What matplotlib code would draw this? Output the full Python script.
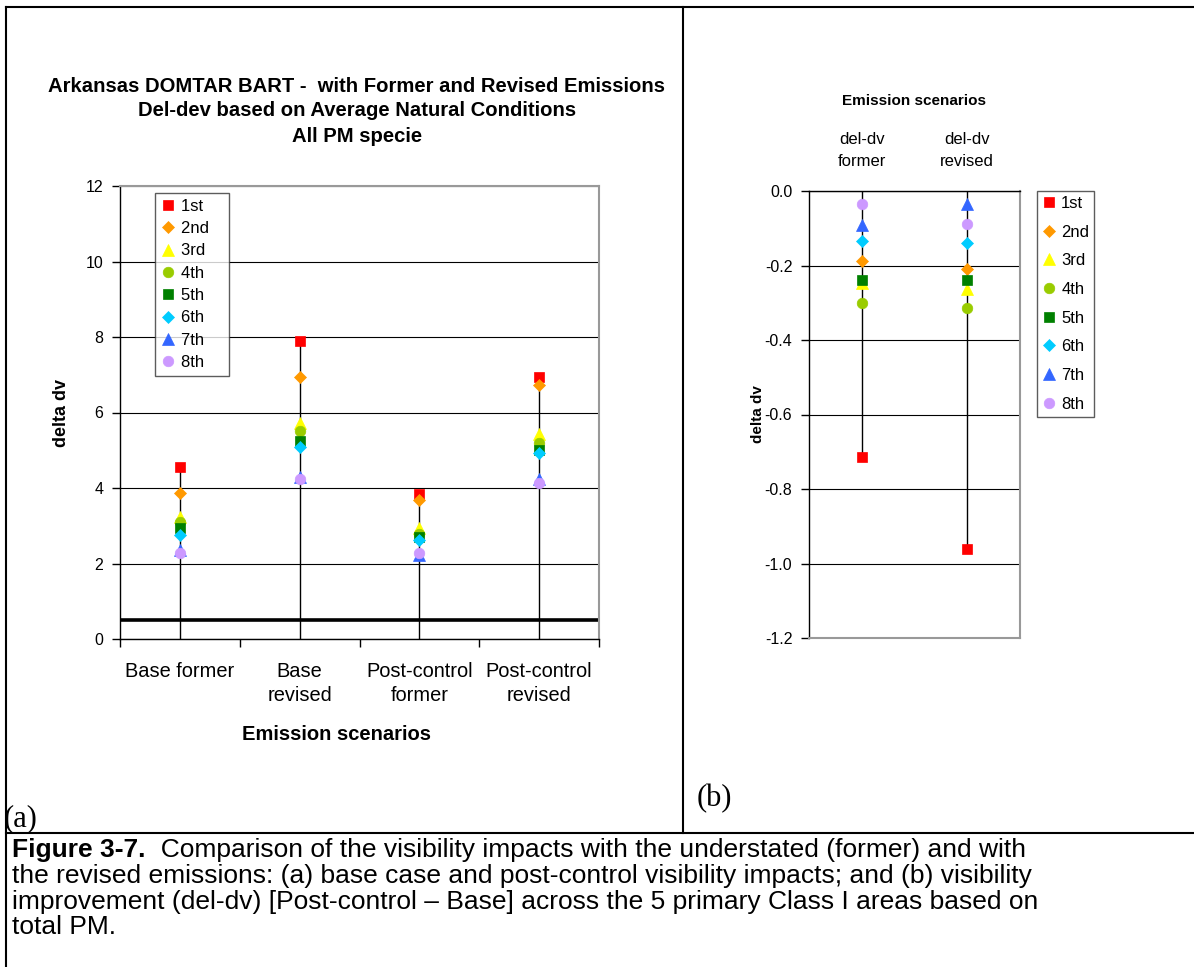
import matplotlib
matplotlib.use('Agg')
import matplotlib.pyplot as plt
from matplotlib.lines import Line2D
from matplotlib.ticker import FormatStrFormatter

W, H = 1194, 967
plt.rcParams['font.family'] = ['Liberation Sans', 'DejaVu Sans']

# ---------------- data ----------------
series_names = ['1st', '2nd', '3rd', '4th', '5th', '6th', '7th', '8th']

categories_a = ['Base former', 'Base\nrevised', 'Post-control\nformer', 'Post-control\nrevised']
a_1st = [4.55, 7.90, 3.84, 6.95]
a_2nd = [3.87, 6.95, 3.68, 6.73]
a_3rd = [3.24, 5.72, 2.95, 5.44]
a_4th = [3.11, 5.50, 2.78, 5.18]
a_5th = [2.93, 5.24, 2.71, 5.00]
a_6th = [2.76, 5.09, 2.62, 4.94]
a_7th = [2.36, 4.30, 2.23, 4.25]
a_8th = [2.29, 4.23, 2.27, 4.14]
threshold_a = 0.5

categories_b = ['del-dv\nformer', 'del-dv\nrevised']
b_1st = [-0.715, -0.960]
b_2nd = [-0.188, -0.209]
b_3rd = [-0.247, -0.262]
b_4th = [-0.302, -0.313]
b_5th = [-0.239, -0.239]
b_6th = [-0.134, -0.139]
b_7th = [-0.092, -0.034]
b_8th = [-0.036, -0.088]

series_a = [a_1st, a_2nd, a_3rd, a_4th, a_5th, a_6th, a_7th, a_8th]
series_b = [b_1st, b_2nd, b_3rd, b_4th, b_5th, b_6th, b_7th, b_8th]

# ---------------- styles ----------------
colors = ['#FF0000', '#FF9900', '#FFFF00', '#99CC00', '#008000', '#00CCFF', '#3366FF', '#CC99FF']
markers = ['s', 'D', '^', 'o', 's', 'D', '^', 'o']
msizes = [7.0, 5.8, 8.0, 7.6, 7.0, 5.8, 8.0, 7.6]

fig = plt.figure(figsize=(W / 100, H / 100), dpi=100)


def px_axes(x0, y0, x1, y1):
    return fig.add_axes([x0 / W, 1 - y1 / H, (x1 - x0) / W, (y1 - y0) / H])


def fx(x):
    return x / W


def fy(y):
    return 1 - y / H


def fig_line(x0, y0, x1, y1, lw=1.5):
    fig.add_artist(Line2D([fx(x0), fx(x1)], [fy(y0), fy(y1)], transform=fig.transFigure,
                          color='black', lw=lw, solid_capstyle='projecting'))


GRAY = '#999999'

# ---------------- panel (a) ----------------
axA = px_axes(120, 186, 599, 639)
xa = list(range(len(categories_a)))
tops = [max(s[i] for s in series_a) for i in xa]
axA.vlines(xa, 0, tops, colors='black', lw=1.0, zorder=2)
axA.axhline(threshold_a, color='black', lw=2.6, zorder=2.5)
for i, s in enumerate(series_a):
    axA.plot(xa, s, ls='none', marker=markers[i], ms=msizes[i], color=colors[i],
             mec=colors[i], mew=0.5, zorder=3 + i, label=series_names[i] + '   ')
axA.set_xlim(-0.5, 3.5)
axA.set_ylim(0, 12)
axA.set_yticks(range(0, 13, 2))
axA.yaxis.grid(True, color='black', lw=0.8)
axA.set_axisbelow(True)
axA.set_xticks(xa)
axA.set_xticklabels(categories_a, fontsize=14.4, linespacing=1.35)
axA.set_xticks([-0.5, 0.5, 1.5, 2.5, 3.5], minor=True)
axA.tick_params(axis='x', which='major', length=0, pad=16.5)
axA.tick_params(axis='x', which='minor', length=6, width=1, direction='out')
axA.tick_params(axis='y', length=6, width=1, direction='out', labelsize=11.5, pad=6)
for side in ['left', 'bottom']:
    axA.spines[side].set_color('black')
    axA.spines[side].set_linewidth(1.0)
for side in ['top', 'right']:
    axA.spines[side].set_color(GRAY)
    axA.spines[side].set_linewidth(1.5)
legA = axA.legend(loc='upper left', bbox_to_anchor=(fx(155), fy(193)),
                  bbox_transform=fig.transFigure, borderaxespad=0, fontsize=12,
                  frameon=True, fancybox=False, edgecolor='#333333', handlelength=0.8,
                  handletextpad=0.4, labelspacing=0.44, borderpad=0.35, numpoints=1)
legA.get_frame().set_linewidth(1.0)

fig.text(fx(357), fy(86), 'Arkansas DOMTAR BART -  with Former and Revised Emissions',
         ha='center', va='center', fontsize=14.6, weight='bold')
fig.text(fx(357), fy(111), 'Del-dev based on Average Natural Conditions',
         ha='center', va='center', fontsize=14.6, weight='bold')
fig.text(fx(357), fy(137), 'All PM specie', ha='center', va='center', fontsize=14.6,
         weight='bold')
fig.text(fx(337), fy(734), 'Emission scenarios', ha='center', va='center', fontsize=14.5,
         weight='bold')
fig.text(fx(62), fy(413), 'delta dv', ha='center', va='center', rotation=90, fontsize=13,
         weight='bold')

# ---------------- panel (b) ----------------
axB = px_axes(809, 191, 1020, 638)
xb = list(range(len(categories_b)))
bottoms = [min(s[i] for s in series_b) for i in xb]
axB.vlines(xb, bottoms, 0, colors='black', lw=1.0, zorder=2)
for i, s in enumerate(series_b):
    axB.plot(xb, s, ls='none', marker=markers[i], ms=msizes[i], color=colors[i],
             mec=colors[i], mew=0.5, zorder=3 + i, label=series_names[i])
axB.set_xlim(-0.5, 1.5)
axB.set_ylim(-1.2, 0)
axB.set_yticks([0, -0.2, -0.4, -0.6, -0.8, -1.0, -1.2])
axB.yaxis.set_major_formatter(FormatStrFormatter('%.1f'))
axB.yaxis.grid(True, color='black', lw=0.8)
axB.set_axisbelow(True)
axB.xaxis.tick_top()
axB.set_xticks(xb)
axB.set_xticklabels(categories_b, fontsize=12, linespacing=1.6)
axB.tick_params(axis='x', length=0, pad=15.5)
axB.tick_params(axis='y', length=6, width=1, direction='out', labelsize=11.5, pad=6)
for side in ['left', 'top']:
    axB.spines[side].set_color('black')
    axB.spines[side].set_linewidth(1.0)
for side in ['bottom', 'right']:
    axB.spines[side].set_color(GRAY)
    axB.spines[side].set_linewidth(1.5)
legB = axB.legend(loc='upper left', bbox_to_anchor=(fx(1037), fy(191)),
                  bbox_transform=fig.transFigure, borderaxespad=0, fontsize=12,
                  frameon=True, fancybox=False, edgecolor='#333333', handlelength=0.8,
                  handletextpad=0.35, labelspacing=0.82, borderpad=0.3, numpoints=1)
legB.get_frame().set_linewidth(1.0)

fig.text(fx(914), fy(101), 'Emission scenarios', ha='center', va='center', fontsize=11,
         weight='bold')
fig.text(fx(758), fy(414), 'delta dv', ha='center', va='center', rotation=90, fontsize=11,
         weight='bold')

# ---------------- frame & labels ----------------
fig_line(6, 7, 1194, 7)
fig_line(6, 7, 6, 967)
fig_line(683, 7, 683, 833)
fig_line(6, 833, 1194, 833)

fig.text(fx(4), fy(819), '(a)', ha='left', va='center', fontsize=22,
         family=['Liberation Serif', 'DejaVu Serif'])
fig.text(fx(697), fy(799), '(b)', ha='left', va='center', fontsize=22,
         family=['Liberation Serif', 'DejaVu Serif'])

cap_fs = 19
fig.canvas.draw()
renderer = fig.canvas.get_renderer()
t0 = fig.text(fx(12), fy(850), 'Figure 3-7.', ha='left', va='center', fontsize=cap_fs,
              weight='bold')
bb = t0.get_window_extent(renderer=renderer)
fig.text(bb.x1 / W, fy(850), '  Comparison of the visibility impacts with the understated (former) and with',
         ha='left', va='center', fontsize=cap_fs)
cap_lines = ['the revised emissions: (a) base case and post-control visibility impacts; and (b) visibility',
             'improvement (del-dv) [Post-control \u2013 Base] across the 5 primary Class I areas based on',
             'total PM.']
for k, line in enumerate(cap_lines):
    fig.text(fx(12), fy(876 + 25.5 * k), line, ha='left', va='center', fontsize=cap_fs)

fig.savefig('out.png', dpi=100)
